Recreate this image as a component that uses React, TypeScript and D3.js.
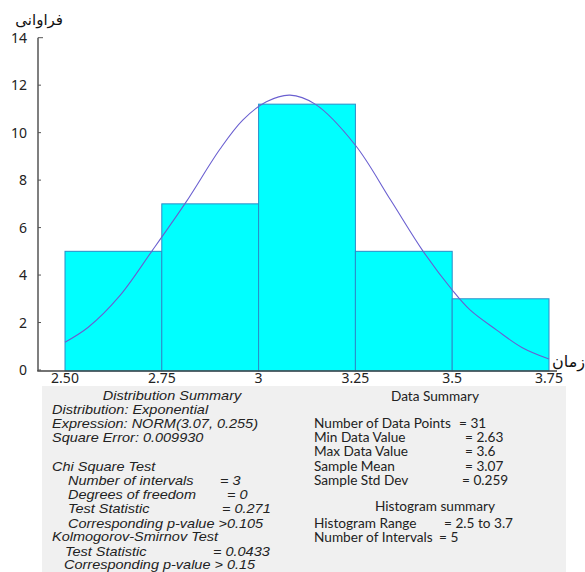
import * as d3 from 'd3';

// histogram bins (edges) and counts
const binEdges = [2.5, 2.75, 3.0, 3.25, 3.5, 3.75];
const binCounts = [5, 7, 11.2, 5, 3];

// fitted curve, points
const curveX = [2.5, 2.56, 2.64, 2.724, 2.812, 2.9, 2.959, 3.02, 3.081, 3.146, 3.25, 3.341, 3.425, 3.5, 3.546, 3.615, 3.68, 3.75];
const curveY = [1.17, 1.8, 3.1, 5.0, 7.06, 9.3, 10.53, 11.3, 11.58, 11.2, 9.47, 7.16, 5.0, 3.37, 2.53, 1.68, 0.95, 0.46];

const yTicks = [0, 2, 4, 6, 8, 10, 12, 14];
const xTickLabels = ['2.50', '2.75', '3', '3.25', '3.5', '3.75'];

const yTitle = 'فراوانی';
const xTitle = 'زمان';

const distTitle = 'Distribution Summary';
const distHead = ['Distribution: Exponential', 'Expression: NORM(3.07, 0.255)', 'Square Error: 0.009930'];
const chiTitle = 'Chi Square Test';
const chiLabels = ['Number of intervals', 'Degrees of freedom', 'Test Statistic', 'Corresponding p-value'];
const chiValues = ['= 3', '= 0', '= 0.271', '>0.105'];
const ksTitle = 'Kolmogorov-Smirnov Test';
const ksLabels = ['Test Statistic', 'Corresponding p-value'];
const ksValues = ['= 0.0433', '> 0.15'];

const dataTitle = 'Data Summary';
const dataLabels = ['Number of Data Points', 'Min Data Value', 'Max Data Value', 'Sample Mean', 'Sample Std Dev'];
const dataValues = ['= 31', '= 2.63', '= 3.6', '= 3.07', '= 0.259'];
const histTitle = 'Histogram summary';
const histLabels = ['Histogram Range', 'Number of Intervals'];
const histValues = ['= 2.5 to 3.7', '= 5'];

// text stretched horizontally (the summary box is wider than its font)
function T({ x, y, sx, anchor, children }: { x: number; y: number; sx: number; anchor?: string; children: any }) {
  return (
    <text transform={`translate(${x},${y}) scale(${sx},1)`} textAnchor={anchor ?? 'start'}>{children}</text>
  );
}

export default function App() {
  const W = 585;
  const H = 572;
  const x = d3.scaleLinear().domain([2.5, 3.75]).range([65, 549]);
  const y = d3.scaleLinear().domain([0, 14]).range([370, 37.7]);
  const axisY = 371;
  const axisX = 38;

  const line = d3.line<number>()
    .x((d) => x(d))
    .y((_, i) => y(curveY[i]))
    .curve(d3.curveCatmullRom.alpha(0.5));

  const sans = '"Noto Sans", "DejaVu Sans", sans-serif';
  const arial = '"Liberation Sans", Arial, sans-serif';
  const lato = 'Lato, "Noto Sans", sans-serif';
  const lh = 14.2;
  const sxL = 1.16;
  const sxR = 1.05;

  // value columns
  const chiValX = [220, 227, 222];
  const dataValX = [459, 465, 465, 465, 462];
  const histValX = [444, 439];

  return (
    <svg width={W} height={H} style={{ position: 'absolute', left: 0, top: 0 }}>
      <rect width={W} height={H} fill="#fff" />

      {/* bars */}
      {binCounts.map((c, i) => (
        <rect key={i}
          x={x(binEdges[i])} y={y(c)}
          width={x(binEdges[i + 1]) - x(binEdges[i])}
          height={axisY - y(c)}
          fill="#00ffff" stroke="#2a8cc8" strokeWidth={1} />
      ))}

      {/* fitted curve */}
      <path d={line(curveX) ?? ''} fill="none" stroke="#6a5fd0" strokeWidth={1.1} />

      {/* axes */}
      <line x1={axisX} x2={axisX} y1={y(14)} y2={axisY} stroke="#555" strokeWidth={1.5} />
      <line x1={axisX - 0.75} x2={557} y1={axisY} y2={axisY} stroke="#444" strokeWidth={1.5} />
      {yTicks.map((t) => (
        <g key={t}>
          <line x1={axisX} x2={axisX + (t === 14 ? 5 : 3)} y1={y(t)} y2={y(t)} stroke="#555" strokeWidth={1} />
          <text x={27} y={y(t) + 5} textAnchor="end" fontFamily={sans} fontSize={14} fill="#222">{t}</text>
        </g>
      ))}
      {binEdges.map((e, i) => (
        <text key={i} x={x(e)} y={383} textAnchor="middle" fontFamily={sans} fontSize={14} fill="#222">{xTickLabels[i]}</text>
      ))}
      <text x={63} y={25} textAnchor="end" fontFamily={sans} fontSize={15} fill="#111">{yTitle}</text>
      <text x={585} y={367} textAnchor="end" fontFamily={sans} fontSize={16} fill="#111">{xTitle}</text>

      {/* summary panel */}
      <rect x={42} y={386} width={524} height={H - 386} fill="#f0f0f0" />

      <g fontFamily={arial} fontStyle="italic" fontSize={12.5} fill="#222">
        <T x={172} y={400} sx={sxL} anchor="middle">{distTitle}</T>
        {distHead.map((s, i) => (
          <T key={s} x={52} y={414 + i * lh} sx={sxL}>{s}</T>
        ))}
        <T x={52} y={471} sx={sxL}>{chiTitle}</T>
        {chiLabels.map((s, i) => (
          <g key={s}>
            <T x={68} y={485 + i * lh} sx={sxL}>{i === 3 ? `${s} ${chiValues[i]}` : s}</T>
            {i < 3 && <T x={chiValX[i]} y={485 + i * lh} sx={sxL}>{chiValues[i]}</T>}
          </g>
        ))}
        <T x={52} y={541} sx={sxL}>{ksTitle}</T>
        <T x={65} y={556} sx={sxL}>{ksLabels[0]}</T>
        <T x={213} y={556} sx={sxL}>{ksValues[0]}</T>
        <T x={64} y={569} sx={sxL}>{`${ksLabels[1]} ${ksValues[1]}`}</T>
      </g>

      <g fontFamily={lato} fontSize={13} fill="#222">
        <T x={435} y={401} sx={sxR} anchor="middle">{dataTitle}</T>
        {dataLabels.map((s, i) => (
          <g key={s}>
            <T x={314} y={428 + i * lh} sx={sxR}>{s}</T>
            <T x={dataValX[i]} y={428 + i * lh} sx={sxR}>{dataValues[i]}</T>
          </g>
        ))}
        <T x={435} y={511} sx={sxR} anchor="middle">{histTitle}</T>
        {histLabels.map((s, i) => (
          <g key={s}>
            <T x={314} y={527.5 + i * 14.5} sx={sxR}>{s}</T>
            <T x={histValX[i]} y={527.5 + i * 14.5} sx={sxR}>{histValues[i]}</T>
          </g>
        ))}
      </g>
    </svg>
  );
}
